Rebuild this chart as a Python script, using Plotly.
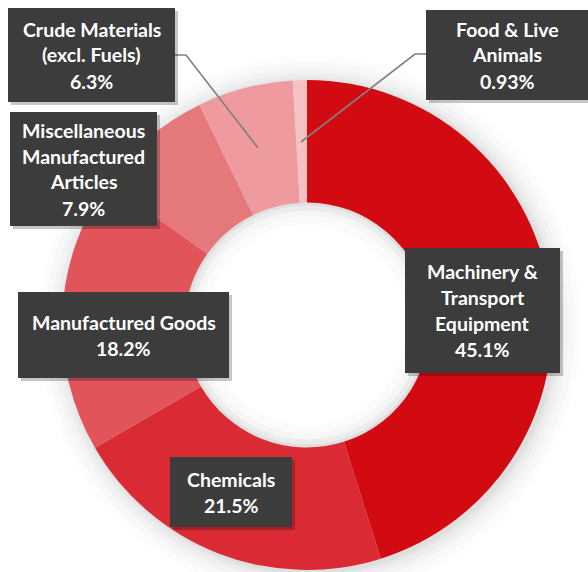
import plotly.graph_objects as go

OFF = 0
W, H = 588, 572

categories = ["Machinery & Transport Equipment", "Chemicals", "Manufactured Goods",
              "Miscellaneous Manufactured Articles", "Crude Materials (excl. Fuels)",
              "Food & Live Animals"]
shares = [45.1, 21.5, 18.2, 7.9, 6.3, 0.93]
share_labels = ["45.1%", "21.5%", "18.2%", "7.9%", "6.3%", "0.93%"]
label_lines = [["Machinery &", "Transport", "Equipment"],
               ["Chemicals"],
               ["Manufactured Goods"],
               ["Miscellaneous", "Manufactured", "Articles"],
               ["Crude Materials", "(excl. Fuels)"],
               ["Food & Live", "Animals"]]
colors = ["#D20A11", "#DA2A33", "#E0545A", "#E5787B", "#EE9A9E", "#F5C1C3"]

# label box placement in screen pixels: (x0, y0, x1, y1)
boxes = [(405, 248, 560, 373), (170, 457, 292, 527), (18, 292, 229, 378),
         (10, 112, 157, 226), (8, 8, 175, 102), (426, 10, 592, 100)]
leaders = {4: [(175, 55), (186, 55), (258, 148)],
           5: [(426, 54), (415, 54), (301, 142)]}

CX, CY, R, HOLE = 307, 325, 245, 0.5


def px(x):
    return (x - OFF) / W


def py(y):
    return 1 - (y - OFF) / H


fig = go.Figure()
fig.add_trace(go.Pie(
    labels=categories, values=shares, sort=False, direction="clockwise",
    rotation=0, hole=HOLE, textinfo="none", hoverinfo="label+percent",
    marker=dict(colors=colors, line=dict(width=0)), showlegend=False,
    domain=dict(x=[px(CX - R), px(CX + R)], y=[max(0, py(CY + R)), py(CY - R)]),
))

shapes = []
# soft glow around donut (decorative)
for k, a in [(26, 0.012), (20, 0.015), (14, 0.018), (9, 0.022), (5, 0.025), (2, 0.03)]:
    shapes.append(dict(type="circle", xref="paper", yref="paper", layer="below",
                       x0=px(CX - R - k + 3), x1=px(CX + R + k + 3),
                       y0=py(CY + R + k + 2), y1=py(CY - R - k + 2),
                       fillcolor=f"rgba(0,0,0,{a})", line=dict(width=0)))
rin = R * HOLE
for k, a in [(3, 0.4), (8, 0.5), (14, 0.6), (22, 1.0)]:
    shapes.append(dict(type="circle", xref="paper", yref="paper", layer="below",
                       x0=px(CX - rin + k), x1=px(CX + rin - k),
                       y0=py(CY + rin - k), y1=py(CY - rin + k),
                       fillcolor=f"rgba(255,255,255,{a})", line=dict(width=0)))

for i, pts in leaders.items():
    path = "M " + " L ".join(f"{px(x)},{py(y)}" for x, y in pts)
    shapes.append(dict(type="path", xref="paper", yref="paper", path=path,
                       line=dict(color="#808080", width=1.6)))

annotations = []
for i, (x0, y0, x1, y1) in enumerate(boxes):
    shapes.append(dict(type="rect", xref="paper", yref="paper",
                       x0=px(x0 + 3), x1=px(x1 + 3), y0=py(y1 + 3), y1=py(y0 + 3),
                       fillcolor="rgba(0,0,0,0.22)", line=dict(width=0)))
    shapes.append(dict(type="rect", xref="paper", yref="paper",
                       x0=px(x0), x1=px(x1), y0=py(y1), y1=py(y0),
                       fillcolor="#3C3C3C", line=dict(width=0)))
    lines = label_lines[i] + [share_labels[i]]
    n = len(lines)
    cxb = (x0 + min(x1, 588)) / 2
    cyb = (y0 + y1) / 2
    step = 26
    for j, t in enumerate(lines):
        yy = cyb + (j - (n - 1) / 2) * step
        annotations.append(dict(xref="paper", yref="paper", x=px(cxb), y=py(yy),
                                xanchor="center", yanchor="middle", showarrow=False,
                                text=f"<b>{t}</b>",
                                font=dict(family="Lato", size=19.5, color="white")))

fig.update_layout(width=W, height=H, margin=dict(l=0, r=0, t=0, b=0),
                  paper_bgcolor="white", plot_bgcolor="white",
                  shapes=shapes, annotations=annotations)
fig.write_html("out.html", config={"displayModeBar": False},
               post_script="document.body.style.margin='0';document.body.style.overflow='hidden';")
